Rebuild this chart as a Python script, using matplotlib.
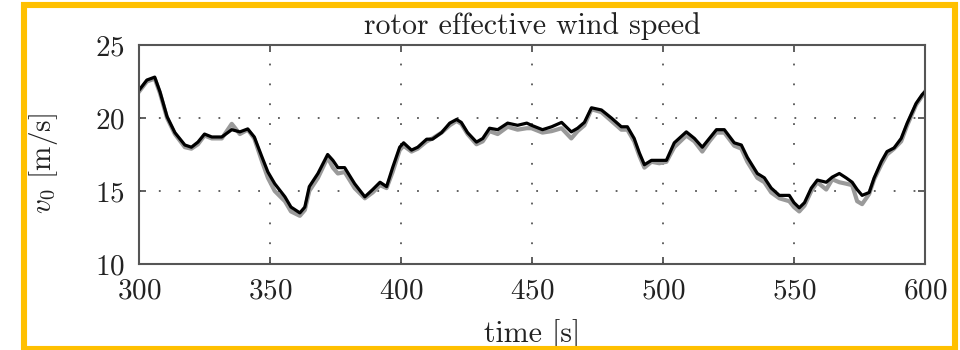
import matplotlib
matplotlib.use("Agg")
import matplotlib.pyplot as plt
from matplotlib.patches import Rectangle

plt.rcParams["font.family"] = "serif"
plt.rcParams["font.serif"] = ["cmr10", "DejaVu Serif"]
plt.rcParams["mathtext.fontset"] = "cm"
plt.rcParams["axes.formatter.use_mathtext"] = True

# time [s]
time = [300, 303, 306, 308, 310.7, 313.7, 317.5, 320, 322.5, 325, 327.8, 331.6,
        335.4, 338.5, 341.5, 344, 347, 349.2, 351.8, 355.7, 358, 361.4, 363.3,
        365, 368.3, 372, 374, 375.9, 378.5, 382.3, 386.2, 389.2, 392, 394.5,
        396.8, 399.5, 401, 404, 406.4, 409.8, 412, 415.5, 418.6, 421.2, 423,
        425.4, 428.8, 431.2, 433.8, 436.9, 440.7, 444.5, 448, 449.8, 454,
        457.5, 461.3, 465, 467.4, 470, 472.7, 476.5, 480.3, 484.1, 486.4, 489,
        491, 492.9, 495.6, 498.6, 501.3, 504.3, 508.9, 512, 515, 517.7, 520.4,
        523.4, 527.2, 529.9, 532.2, 536, 538.7, 541.3, 544.4, 548.2, 550, 552,
        554, 556.6, 558.9, 562.3, 564.6, 567.3, 569.9, 572.2, 574.1, 576,
        578.7, 580.6, 583.3, 585.5, 588.2, 590.9, 593.2, 596.6, 598.9, 600]

# estimated rotor effective wind speed [m/s]
v0_estimate = [21.9, 22.6, 22.8, 21.8, 20.1, 19.0, 18.15, 18.0, 18.35, 18.9, 18.7,
               18.7, 19.2, 19.05, 19.25, 18.7, 17.3, 16.3, 15.5, 14.6, 13.9, 13.5,
               13.9, 15.3, 16.2, 17.5, 17.1, 16.6, 16.6, 15.5, 14.6, 15.1, 15.6,
               15.3, 16.6, 18.0, 18.3, 17.8, 18.0, 18.55, 18.55, 19.0, 19.65, 19.9,
               19.7, 19.0, 18.35, 18.6, 19.3, 19.2, 19.65, 19.5, 19.65, 19.5, 19.2,
               19.4, 19.7, 19.05, 19.3, 19.7, 20.7, 20.55, 20.0, 19.4, 19.4, 18.6,
               17.6, 16.8, 17.1, 17.1, 17.1, 18.3, 19.05, 18.6, 18.0, 18.6, 19.2,
               19.2, 18.3, 18.15, 17.3, 16.2, 15.9, 15.2, 14.7, 14.7, 14.2, 13.85,
               14.2, 15.2, 15.75, 15.6, 15.95, 16.2, 15.9, 15.6, 15.1, 14.7, 14.9,
               15.9, 17.0, 17.7, 17.95, 18.6, 19.65, 21.0, 21.6, 21.8]

# measured rotor effective wind speed [m/s]
v0_actual = [21.8, 22.5, 22.7, 21.7, 20.0, 18.9, 18.0, 17.9, 18.2, 18.8, 18.6,
             18.6, 19.6, 18.9, 19.2, 18.6, 17.0, 15.9, 15.0, 14.3, 13.6, 13.3,
             13.7, 15.0, 15.9, 17.3, 16.6, 16.2, 16.3, 15.2, 14.5, 14.9, 15.4,
             15.2, 16.3, 17.8, 18.1, 17.7, 17.9, 18.4, 18.6, 19.0, 19.5, 19.8,
             19.6, 18.9, 18.2, 18.4, 19.1, 18.9, 19.4, 19.2, 19.3, 19.3, 19.0,
             19.1, 19.3, 18.6, 19.1, 19.5, 20.6, 20.4, 19.8, 19.2, 19.2, 18.4,
             17.4, 16.6, 17.0, 16.9, 17.0, 18.0, 18.8, 18.4, 17.7, 18.4, 19.0,
             19.0, 18.1, 17.9, 17.0, 15.9, 15.6, 14.9, 14.5, 14.3, 13.9, 13.6,
             14.0, 15.0, 15.6, 15.1, 15.8, 15.6, 15.5, 15.4, 14.3, 14.1, 14.8,
             15.8, 16.8, 17.5, 17.9, 18.4, 19.5, 20.9, 21.5, 21.8]

x_ticks = [300, 350, 400, 450, 500, 550, 600]
y_ticks = [10, 15, 20, 25]

fig = plt.figure(figsize=(9.6, 3.5), dpi=100)
ax = fig.add_axes([139 / 960, 1 - 264 / 350, (925 - 139) / 960, (264 - 45) / 350])

ax.plot(time, v0_actual, color="#9a9a9a", lw=3.0, solid_joinstyle="round")
ax.plot(time, v0_estimate, color="black", lw=2.3, solid_joinstyle="round")

ax.set_xlim(300, 600)
ax.set_ylim(10, 25)
ax.set_xticks(x_ticks)
ax.set_yticks(y_ticks)
ax.grid(True, linestyle=(0, (1, 10)), color="#555555", lw=1.3)
ax.tick_params(direction="in", length=5, width=1.2, colors="#444444",
               labelcolor="#222222", labelsize=21, top=True, right=True, pad=10)
for s in ax.spines.values():
    s.set_color("#555555")
    s.set_linewidth(1.5)

ax.set_title("rotor effective wind speed", fontsize=21.5, color="#222222", pad=8)
ax.set_xlabel("time [s]", fontsize=21.5, color="#222222", labelpad=11)
ax.set_ylabel(r"$v_0$ [m/s]", fontsize=21, color="#222222")
ax.yaxis.set_label_coords(-0.1, 0.46)

# frame around the figure
fig.add_artist(Rectangle((24 / 960, 1 / 350), (955 - 24) / 960, (345.5 - 1) / 350,
                         transform=fig.transFigure, fill=False,
                         edgecolor="#FFC000", lw=4.4, clip_on=False))

fig.savefig("out.png", dpi=100)
